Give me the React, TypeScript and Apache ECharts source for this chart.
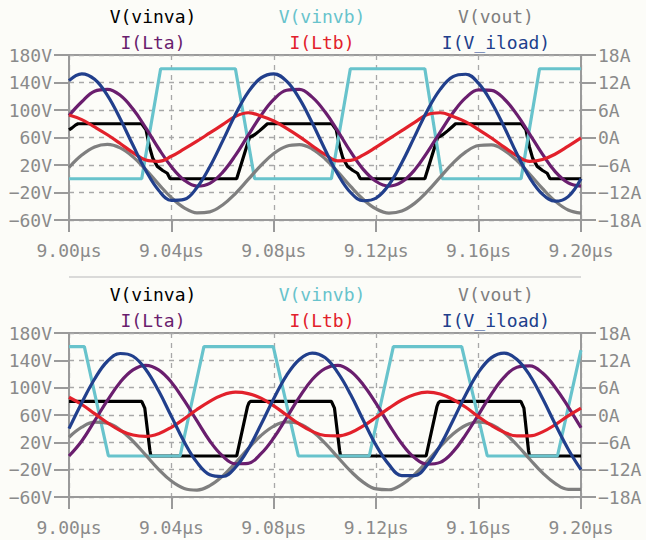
import React, { useEffect, useRef } from "react";
import * as echarts from "echarts";

// time grid in µs
const T = [9.000, 9.005, 9.010, 9.015, 9.020, 9.025, 9.030, 9.035, 9.040, 9.045, 9.050, 9.055, 9.060, 9.065, 9.070, 9.075, 9.080, 9.085, 9.090, 9.095, 9.100, 9.105, 9.110, 9.115, 9.120, 9.125, 9.130, 9.135, 9.140, 9.145, 9.150, 9.155, 9.160, 9.165, 9.170, 9.175, 9.180, 9.185, 9.190, 9.195, 9.200];

const NAMES = ["V(vinva)", "V(vinvb)", "V(vout)", "I(Lta)", "I(Ltb)", "I(V_iload)"];
const COLORS = ["#000000", "#68c3cc", "#7f7f7f", "#6a1e6e", "#e2212b", "#213f8c"];

const X_TICKS_US = [9.0, 9.04, 9.08, 9.12, 9.16, 9.2];
const V_TICKS = [-60, -20, 20, 60, 100, 140, 180];
const A_TICKS = [-18, -12, -6, 0, 6, 12, 18];

// ---- top panel ----
const TOP_VINVA: [number, number][] = [
  [9.000, 71], [9.0012, 74], [9.0025, 78], [9.0035, 80], [9.0284, 80], [9.0301, 71], [9.0314, 47], [9.0327, 30], [9.0345, 18], [9.0366, 12], [9.0384, 8], [9.0395, 0],
  [9.0655, 0], [9.0705, 60], [9.0725, 64], [9.0745, 70], [9.0760, 75], [9.0775, 80], [9.1027, 80], [9.1044, 71], [9.1057, 47], [9.1070, 30], [9.1088, 18], [9.1109, 12], [9.1127, 8], [9.1138, 0],
  [9.1390, 0], [9.1440, 60], [9.1460, 64], [9.1480, 70], [9.1495, 75], [9.1510, 80], [9.1768, 80], [9.1785, 71], [9.1798, 47], [9.1811, 30], [9.1829, 18], [9.1850, 12], [9.1868, 8], [9.1879, 0], [9.200, 0],
];
const TOP_VINVB: [number, number][] = [
  [9.000, 0], [9.0284, 0], [9.0358, 160], [9.0650, 160], [9.0725, 0], [9.1025, 0], [9.1099, 160], [9.1390, 160], [9.1458, 0], [9.1766, 0], [9.1838, 160], [9.200, 160],
];
const TOP_VOUT = [16.4, 34.4, 46.3, 50.0, 44.9, 31.8, 13.2, -7.8, -27.4, -42.2, -49.5, -48.1, -38.1, -21.5, -1.0, 19.6, 36.8, 47.4, 49.7, 43.3, 29.1, 9.9, -11.2, -30.2, -43.9, -49.9, -47.0, -35.8, -18.4, 2.4, 22.7, 39.0, 48.4, 49.3, 41.4, 26.3, 6.5, -14.4, -32.9, -45.4, -50.0];
const TOP_ILTA = [4.8, 7.8, 10.1, 10.5, 9.2, 6.2, 2.1, -2.4, -6.4, -9.3, -10.6, -10.0, -7.6, -3.9, 0.5, 4.8, 8.3, 10.3, 10.5, 8.8, 5.6, 1.4, -3.1, -7.0, -9.6, -10.6, -9.7, -7.1, -3.2, 1.2, 5.4, 8.7, 10.4, 10.3, 8.4, 5.0, 0.7, -3.7, -7.5, -9.9, -10.6];
const TOP_ILTB = [4.9, 3.9, 2.3, 0.6, -1.3, -3.3, -4.9, -5.2, -4.1, -2.5, -0.8, 1.0, 2.8, 4.6, 5.4, 4.7, 3.6, 2.0, 0.2, -1.8, -3.7, -5.1, -5.0, -3.8, -2.1, -0.3, 1.5, 3.3, 5.0, 5.4, 4.6, 3.4, 1.7, -0.1, -2.1, -4.0, -5.2, -4.8, -3.6, -1.9, -0.1];
const TOP_ILOAD = [12.4, 13.9, 12.7, 9.2, 4.1, -1.7, -7.2, -11.5, -13.7, -13.5, -10.9, -6.4, -0.8, 5.0, 9.9, 13.0, 13.9, 12.3, 8.5, 3.2, -2.6, -8.0, -12.0, -13.8, -13.2, -10.3, -5.5, 0.2, 5.9, 10.5, 13.3, 13.8, 11.8, 7.7, 2.3, -3.6, -8.8, -12.4, -13.9, -12.9, -9.0];

// ---- bottom panel ----
const BOT_VINVA: [number, number][] = [
  [9.000, 80], [9.0284, 80], [9.0296, 70], [9.0316, 8], [9.0320, 0], [9.0655, 0], [9.0697, 72], [9.0703, 78], [9.0710, 80],
  [9.1025, 80], [9.1037, 70], [9.1057, 8], [9.1061, 0], [9.1395, 0], [9.1437, 72], [9.1443, 78], [9.1450, 80],
  [9.1765, 80], [9.1777, 70], [9.1795, 8], [9.1799, 0], [9.200, 0],
];
const BOT_VINVB: [number, number][] = [
  [9.000, 160], [9.0060, 160], [9.0154, 0], [9.0434, 0], [9.0527, 160], [9.0798, 160], [9.0896, 0], [9.1173, 0], [9.1267, 160], [9.1534, 160], [9.1634, 0], [9.1908, 0], [9.200, 155],
];
const BOT_VOUT = [27.5, 42.2, 49.5, 48.1, 38.2, 21.6, 1.2, -19.5, -36.6, -47.4, -49.8, -43.4, -29.4, -10.2, 10.8, 29.9, 43.7, 49.8, 47.2, 36.2, 18.9, -1.8, -22.1, -38.6, -48.2, -49.4, -41.8, -26.9, -7.3, 13.7, 32.2, 45.1, 50.0, 46.1, 34.1, 16.1, -4.7, -24.7, -40.4, -48.9, -48.8];
const BOT_ILTA = [-9.0, -5.7, -1.3, 3.2, 7.2, 9.9, 10.9, 9.9, 7.2, 3.2, -1.3, -5.7, -9.0, -10.7, -10.6, -8.5, -5.0, -0.6, 3.9, 7.8, 10.2, 10.9, 9.6, 6.6, 2.5, -2.1, -6.3, -9.4, -10.8, -10.4, -8.1, -4.3, 0.1, 4.6, 8.3, 10.5, 10.8, 9.2, 6.0, 1.8, -2.8];
const BOT_ILTB = [3.9, 2.3, 0.3, -1.7, -3.4, -4.4, -4.7, -4.1, -2.7, -0.85, 1.2, 3.0, 4.4, 5.0, 4.7, 3.7, 2.0, 0.0, -2.0, -3.6, -4.5, -4.6, -3.9, -2.4, -0.5, 1.5, 3.3, 4.5, 5.0, 4.6, 3.4, 1.7, -0.4, -2.3, -3.8, -4.6, -4.6, -3.7, -2.1, -0.2, 1.5];
const BOT_ILOAD = [-3.0, 2.7, 7.9, 11.8, 13.5, 12.9, 10.0, 5.3, -0.3, -5.9, -10.4, -13.1, -13.5, -11.5, -7.5, -2.1, 3.6, 8.7, 12.2, 13.6, 12.6, 9.3, 4.5, -1.2, -6.7, -10.9, -13.3, -13.3, -10.9, -6.7, -1.2, 4.5, 9.4, 12.6, 13.6, 12.2, 8.7, 3.6, -2.1, -7.5, -12.0];

const FONT = '"DejaVu Sans Mono", "Liberation Mono", monospace';
const AX = "#9a9a9a";
const LAB = "#8a8a8a";
const GRIDC = "#a8a8a8";
const BG = "#fcfcf8";

const minus = (n: number) => (n < 0 ? "\u2212" + Math.abs(n) : String(n));

function zip(vals: number[]): [number, number][] {
  return T.map((t, i) => [t, vals[i]]);
}

function xAxisFor(gi: number) {
  return {
    type: "value", gridIndex: gi,
    min: X_TICKS_US[0], max: X_TICKS_US[X_TICKS_US.length - 1], interval: 0.04,
    axisLine: { show: true, onZero: false, lineStyle: { color: AX, width: 2 } },
    axisTick: { show: true, inside: false, length: 12, lineStyle: { color: AX, width: 2 } },
    axisLabel: { margin: 21, color: LAB, fontFamily: FONT, fontSize: 18, formatter: (v: number) => v.toFixed(2) + "\u00b5s" },
    splitLine: { show: true, lineStyle: { color: GRIDC, type: [5, 5], width: 1.3 } },
  };
}
function yAxisV(gi: number) {
  return {
    type: "value", gridIndex: gi, position: "left",
    min: V_TICKS[0], max: V_TICKS[V_TICKS.length - 1], interval: 40,
    axisLine: { show: true, onZero: false, lineStyle: { color: AX, width: 2 } },
    axisTick: { show: true, length: 15, lineStyle: { color: AX, width: 2 } },
    axisLabel: { margin: 17, padding: [5, 0, 0, 0], color: LAB, fontFamily: FONT, fontSize: 18, formatter: (v: number) => minus(v) + "V" },
    splitLine: { show: true, lineStyle: { color: GRIDC, type: [5, 5], width: 1.3 } },
  };
}
function yAxisA(gi: number) {
  return {
    type: "value", gridIndex: gi, position: "right",
    min: A_TICKS[0], max: A_TICKS[A_TICKS.length - 1], interval: 6,
    axisLine: { show: true, onZero: false, lineStyle: { color: AX, width: 2 } },
    axisTick: { show: true, length: 15, lineStyle: { color: AX, width: 2 } },
    axisLabel: { margin: 17, padding: [5, 0, 0, 0], color: LAB, fontFamily: FONT, fontSize: 18, formatter: (v: number) => minus(v) + "A" },
    splitLine: { show: false },
  };
}

function line(name: string, data: [number, number][], color: string, gi: number, yi: number, smooth: boolean) {
  return {
    name, type: "line", data, xAxisIndex: gi, yAxisIndex: yi,
    showSymbol: false, symbol: "none", smooth: smooth ? 0.4 : false,
    lineStyle: { color, width: 3.2 }, itemStyle: { color }, clip: true, silent: true,
  };
}

function legendTexts(rows: number[]) {
  const xs = [153, 322, 496];
  const out: any[] = [];
  NAMES.forEach((n, i) => {
    out.push({
      type: "text", x: xs[i % 3], y: rows[Math.floor(i / 3)],
      style: {
        text: n, fill: COLORS[i], font: `18px ${FONT}`,
        align: "center", verticalAlign: "middle", textAlign: "center", textVerticalAlign: "middle",
      },
    });
  });
  return out;
}

export default function App() {
  const ref = useRef<HTMLDivElement>(null);
  useEffect(() => {
    if (!ref.current) return;
    const chart = echarts.init(ref.current, undefined, { renderer: "svg" });
    const option: any = {
      animation: false,
      backgroundColor: BG,
      grid: [
        { left: 69, top: 55, width: 512, height: 165, show: true, borderColor: AX, borderWidth: 2, backgroundColor: "transparent" },
        { left: 69, top: 333, width: 512, height: 164, show: true, borderColor: AX, borderWidth: 2, backgroundColor: "transparent" },
      ],
      xAxis: [xAxisFor(0), xAxisFor(1)],
      yAxis: [yAxisV(0), yAxisA(0), yAxisV(1), yAxisA(1)],
      series: [
        line(NAMES[0], TOP_VINVA, COLORS[0], 0, 0, false),
        line(NAMES[1], TOP_VINVB, COLORS[1], 0, 0, false),
        line(NAMES[2], zip(TOP_VOUT), COLORS[2], 0, 0, true),
        line(NAMES[3], zip(TOP_ILTA), COLORS[3], 0, 1, true),
        line(NAMES[4], zip(TOP_ILTB), COLORS[4], 0, 1, true),
        line(NAMES[5], zip(TOP_ILOAD), COLORS[5], 0, 1, true),
        line(NAMES[0], BOT_VINVA, COLORS[0], 1, 2, false),
        line(NAMES[1], BOT_VINVB, COLORS[1], 1, 2, false),
        line(NAMES[2], zip(BOT_VOUT), COLORS[2], 1, 2, true),
        line(NAMES[3], zip(BOT_ILTA), COLORS[3], 1, 3, true),
        line(NAMES[4], zip(BOT_ILTB), COLORS[4], 1, 3, true),
        line(NAMES[5], zip(BOT_ILOAD), COLORS[5], 1, 3, true),
      ],
      graphic: [
        ...legendTexts([16, 42]),
        ...legendTexts([294, 320]),
        { type: "line", shape: { x1: 69, y1: 277, x2: 581, y2: 277 }, style: { stroke: "#cfcfcf", lineWidth: 1.5 } },
      ],
    };
    chart.setOption(option);
    return () => chart.dispose();
  }, []);
  return (
    <div
      ref={ref}
      style={{ position: "absolute", left: 0, top: 0, width: 646, height: 540, background: BG }}
    />
  );
}
